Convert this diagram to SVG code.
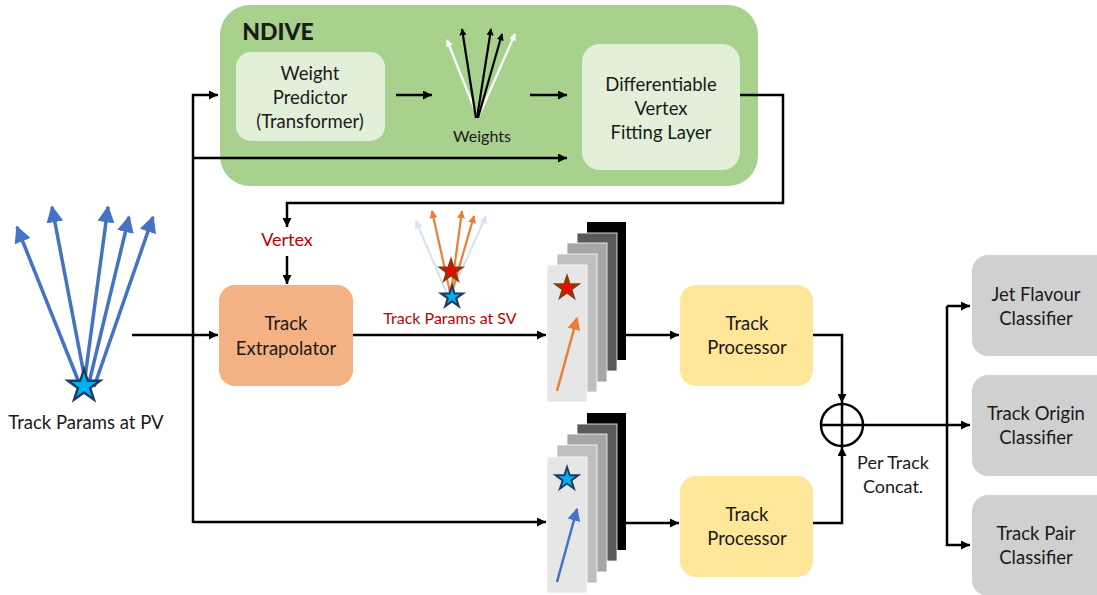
<svg xmlns="http://www.w3.org/2000/svg" width="1097" height="595" viewBox="0 0 1097 595">
<style>
text{font-family:Lato,"Open Sans","Liberation Sans",sans-serif;fill:#1a1a1a;text-anchor:middle}
.lbl{font-size:18.5px}
.red{fill:#c00000}
.conn{fill:none;stroke:#000;stroke-width:2.5}
.blue{stroke:#4472c4;stroke-width:3.5;fill:none}
.or{stroke:#ed7d31;stroke-width:2.2;fill:none}
.lb{stroke:#dae3f3;stroke-width:2.2;fill:none}
.blk{stroke:#000;stroke-width:2.2;fill:none}
.wht{stroke:#fff;stroke-width:2.2;fill:none}
</style>
<defs>
<marker id="ah" viewBox="0 0 10 10" refX="10" refY="5" markerWidth="9" markerHeight="9" markerUnits="userSpaceOnUse" orient="auto"><path d="M0,0L10,5L0,10z" fill="#000"/></marker>
<marker id="ahb" viewBox="0 0 10 10" refX="9" refY="5" markerWidth="17" markerHeight="17" markerUnits="userSpaceOnUse" orient="auto"><path d="M0,0L10,5L0,10z" fill="#4472c4"/></marker>
<marker id="ahb2" viewBox="0 0 10 10" refX="9" refY="5" markerWidth="13" markerHeight="13" markerUnits="userSpaceOnUse" orient="auto"><path d="M0,0L10,5L0,10z" fill="#4472c4"/></marker>
<marker id="aho" viewBox="0 0 10 10" refX="9" refY="5" markerWidth="8" markerHeight="8" markerUnits="userSpaceOnUse" orient="auto"><path d="M0,0L10,5L0,10z" fill="#ed7d31"/></marker>
<marker id="aho2" viewBox="0 0 10 10" refX="9" refY="5" markerWidth="13" markerHeight="13" markerUnits="userSpaceOnUse" orient="auto"><path d="M0,0L10,5L0,10z" fill="#ed7d31"/></marker>
<marker id="ahl" viewBox="0 0 10 10" refX="9" refY="5" markerWidth="8" markerHeight="8" markerUnits="userSpaceOnUse" orient="auto"><path d="M0,0L10,5L0,10z" fill="#dae3f3"/></marker>
<marker id="ahk" viewBox="0 0 10 10" refX="9" refY="5" markerWidth="7" markerHeight="7" markerUnits="userSpaceOnUse" orient="auto"><path d="M0,0L10,5L0,10z" fill="#000"/></marker>
<marker id="ahw" viewBox="0 0 10 10" refX="9" refY="5" markerWidth="7" markerHeight="7" markerUnits="userSpaceOnUse" orient="auto"><path d="M0,0L10,5L0,10z" fill="#fff"/></marker>
<polygon id="star" points="0,-10 2.245,-3.09 9.51,-3.09 3.63,1.18 5.88,8.09 0,3.82 -5.88,8.09 -3.63,1.18 -9.51,-3.09 -2.245,-3.09"/>
</defs>

<g id="ndive">
<rect x="220" y="5" width="538" height="181" rx="30" fill="#a9d18e"/>
<text x="278" y="40" style="font-size:23px;font-weight:900" fill="#000">NDIVE</text>
</g>
<g id="weight-predictor">
<rect x="236" y="52" width="149" height="89" rx="15" fill="#e2f0d9"/>
<text class="lbl" x="310" y="80">Weight</text>
<text class="lbl" x="310" y="104">Predictor</text>
<text class="lbl" x="310" y="128">(Transformer)</text>
</g>
<g id="weights">
<line class="wht" x1="478" y1="118" x2="447" y2="40" marker-end="url(#ahw)"/>
<line class="wht" x1="478" y1="118" x2="515" y2="34" marker-end="url(#ahw)"/>
<line class="blk" x1="476" y1="118" x2="462" y2="29" marker-end="url(#ahk)"/>
<line class="blk" x1="477" y1="118" x2="491" y2="29" marker-end="url(#ahk)"/>
<line class="blk" x1="478" y1="118" x2="502" y2="34" marker-end="url(#ahk)"/>
<text x="482" y="142" style="font-size:16px">Weights</text>
</g>
<g id="vertex-fitting">
<rect x="582" y="44" width="158" height="126" rx="18" fill="#e2f0d9"/>
<text class="lbl" x="661" y="91">Differentiable</text>
<text class="lbl" x="661" y="115">Vertex</text>
<text class="lbl" x="661" y="139">Fitting Layer</text>
</g>

<g id="track-params-pv">
<line class="blue" x1="80" y1="385" x2="17" y2="227" marker-end="url(#ahb)"/>
<line class="blue" x1="86" y1="385" x2="52" y2="207" marker-end="url(#ahb)"/>
<line class="blue" x1="84" y1="385" x2="108" y2="207" marker-end="url(#ahb)"/>
<line class="blue" x1="88" y1="387" x2="129" y2="217" marker-end="url(#ahb)"/>
<line class="blue" x1="94" y1="387" x2="153" y2="217" marker-end="url(#ahb)"/>
<use href="#star" transform="translate(84,386) scale(1.7)" fill="#00b0f0" stroke="#203864" stroke-width="1.4"/>
<text x="86" y="429" style="font-size:18.5px">Track Params at PV</text>
</g>

<g id="track-extrapolator">
<rect x="219" y="285" width="134" height="101" rx="16" fill="#f4b183"/>
<text class="lbl" x="286" y="330">Track</text>
<text class="lbl" x="286" y="355">Extrapolator</text>
</g>

<g id="vertex-label">
<text x="287" y="246" class="red" style="font-size:18px">Vertex</text>
</g>

<g id="track-params-sv">
<line class="lb" x1="448" y1="296" x2="416" y2="221" marker-end="url(#ahl)"/>
<line class="lb" x1="450" y1="296" x2="486" y2="216" marker-end="url(#ahl)"/>
<line class="or" x1="450" y1="292" x2="432" y2="211" marker-end="url(#aho)"/>
<line class="or" x1="451" y1="292" x2="462" y2="211" marker-end="url(#aho)"/>
<line class="or" x1="452" y1="292" x2="474" y2="216" marker-end="url(#aho)"/>
<use href="#star" transform="translate(451,271) scale(1.15)" fill="#ff0000" stroke="#843c0c" stroke-width="1.8"/>
<use href="#star" transform="translate(452,297) scale(1.15)" fill="#00b0f0" stroke="#203864" stroke-width="1.8"/>
<text x="450" y="324" class="red" style="font-size:16px">Track Params at SV</text>
</g>

<g id="stack-sv">
<rect x="587" y="222" width="39" height="138" fill="#000"/>
<rect x="577" y="233" width="40" height="138" fill="#595959" stroke="#fff" stroke-width="0.8"/>
<rect x="567" y="243" width="40" height="139" fill="#a6a6a6" stroke="#fff" stroke-width="0.8"/>
<rect x="557" y="254" width="40" height="138" fill="#bfbfbf" stroke="#fff" stroke-width="0.8"/>
<rect x="547" y="265" width="40" height="137" fill="#e7e6e6" stroke="#fff" stroke-width="0.8"/>
<use href="#star" transform="translate(567,288) scale(1.2)" fill="#ff0000" stroke="#843c0c" stroke-width="1.6"/>
<line class="or" x1="557" y1="391" x2="577" y2="318" marker-end="url(#aho2)" style="stroke-width:2.5"/>
</g>

<g id="stack-pv">
<rect x="587" y="413" width="39" height="137" fill="#000"/>
<rect x="577" y="424" width="40" height="137" fill="#595959" stroke="#fff" stroke-width="0.8"/>
<rect x="567" y="434" width="40" height="138" fill="#a6a6a6" stroke="#fff" stroke-width="0.8"/>
<rect x="557" y="445" width="40" height="138" fill="#bfbfbf" stroke="#fff" stroke-width="0.8"/>
<rect x="547" y="457" width="40" height="136" fill="#e7e6e6" stroke="#fff" stroke-width="0.8"/>
<use href="#star" transform="translate(567,479) scale(1.2)" fill="#00b0f0" stroke="#203864" stroke-width="1.6"/>
<line class="blue" x1="557" y1="582" x2="577" y2="509" marker-end="url(#ahb2)" style="stroke-width:2.5"/>
</g>

<g id="track-processor-1">
<rect x="680" y="285" width="133" height="101" rx="16" fill="#ffe699"/>
<text class="lbl" x="747" y="330">Track</text>
<text class="lbl" x="747" y="354">Processor</text>
</g>
<g id="track-processor-2">
<rect x="680" y="476" width="133" height="101" rx="16" fill="#ffe699"/>
<text class="lbl" x="747" y="521">Track</text>
<text class="lbl" x="747" y="545">Processor</text>
</g>

<g id="concat">
<circle cx="842" cy="425" r="21" fill="#fff" stroke="#000" stroke-width="2.5"/>
<line x1="821" y1="425" x2="863" y2="425" stroke="#000" stroke-width="2.5"/>
<line x1="842" y1="404" x2="842" y2="446" stroke="#000" stroke-width="2.5"/>
<text x="893" y="469" style="font-size:18px">Per Track</text>
<text x="893" y="493" style="font-size:18px">Concat.</text>
</g>

<g id="jet-flavour">
<rect x="972" y="255" width="140" height="101" rx="16" fill="#d0d0d0"/>
<text class="lbl" x="1036" y="301">Jet Flavour</text>
<text class="lbl" x="1036" y="325">Classifier</text>
</g>
<g id="track-origin">
<rect x="972" y="375" width="140" height="101" rx="16" fill="#d0d0d0"/>
<text class="lbl" x="1036" y="420">Track Origin</text>
<text class="lbl" x="1036" y="444">Classifier</text>
</g>
<g id="track-pair">
<rect x="972" y="495" width="140" height="101" rx="16" fill="#d0d0d0"/>
<text class="lbl" x="1036" y="540">Track Pair</text>
<text class="lbl" x="1036" y="564">Classifier</text>
</g>

<g id="connectors">
<path class="conn" d="M193,523V95H218" marker-end="url(#ah)"/>
<path class="conn" d="M193,158H567" marker-end="url(#ah)"/>
<path class="conn" d="M396,95H432" marker-end="url(#ah)"/>
<path class="conn" d="M530,95H567" marker-end="url(#ah)"/>
<path class="conn" d="M740,95H783V203H287V227" marker-end="url(#ah)"/>
<path class="conn" d="M287,256V284" marker-end="url(#ah)"/>
<path class="conn" d="M132,335H218" marker-end="url(#ah)"/>
<path class="conn" d="M353,335H546" marker-end="url(#ah)"/>
<path class="conn" d="M193,522H546" marker-end="url(#ah)"/>
<path class="conn" d="M626,335H679" marker-end="url(#ah)"/>
<path class="conn" d="M626,523H679" marker-end="url(#ah)"/>
<path class="conn" d="M813,335H842V403" marker-end="url(#ah)"/>
<path class="conn" d="M813,523H842V447" marker-end="url(#ah)"/>
<path class="conn" d="M863,425H970" marker-end="url(#ah)"/>
<path class="conn" d="M947,306V545H970" marker-end="url(#ah)"/>
<path class="conn" d="M947,306H970" marker-end="url(#ah)"/>
</g>
</svg>
